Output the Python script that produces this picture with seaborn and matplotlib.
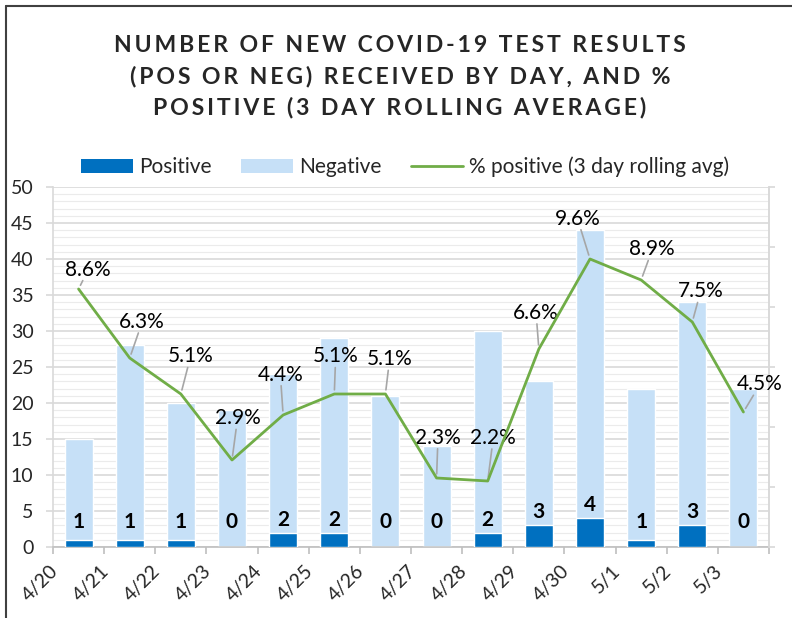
import numpy as np
import pandas as pd
import matplotlib
matplotlib.use('Agg')
import matplotlib.pyplot as plt
import matplotlib.transforms as mtransforms
from matplotlib.lines import Line2D
from matplotlib.patches import Patch
from matplotlib.ticker import MultipleLocator, FixedLocator, NullFormatter
import seaborn as sns

# Data
dates = ["4/20", "4/21", "4/22", "4/23", "4/24", "4/25", "4/26",
         "4/27", "4/28", "4/29", "4/30", "5/1", "5/2", "5/3"]
positive = [1, 1, 1, 0, 2, 2, 0, 0, 2, 3, 4, 1, 3, 0]
negative = [14, 27, 19, 19, 22, 27, 21, 14, 28, 20, 40, 21, 31, 22]
pct_positive = [8.6, 6.3, 5.1, 2.9, 4.4, 5.1, 5.1, 2.3, 2.2, 6.6, 9.6, 8.9, 7.5, 4.5]

# label offsets (points) for the % labels
pct_label_offsets = [(7, 14), (9, 26), (7, 27), (4, 30), (-2, 29), (1, 27), (3, 25),
                     (1, 29), (4, 31), (-2, 26), (-9, 29), (8, 22), (6, 22), (12, 20)]

df = pd.DataFrame({"date": dates, "positive": positive, "negative": negative,
                   "pct": pct_positive})
df["total"] = df["positive"] + df["negative"]

sns.set_theme(style="white")
plt.rcParams['font.family'] = ['Lato', 'DejaVu Sans']

DARK = "#0070C0"
LIGHT = "#C6E0F7"
GREEN = "#70AD47"
GRID = "#D9D9D9"
TEXT = "#262626"

fig = plt.figure(figsize=(7.92, 6.18), dpi=100)
ax = fig.add_axes([53 / 792, 1 - 547 / 618, (769 - 53) / 792, (547 - 187) / 618])

# stacked bars: negative on top of positive
sns.barplot(data=df, x="date", y="total", color=LIGHT, saturation=1, width=0.55,
            ax=ax, zorder=2)
sns.barplot(data=df, x="date", y="positive", color=DARK, saturation=1, width=0.55,
            ax=ax, zorder=3)

ax.set_ylim(0, 50)
ax.set_xlim(-0.5, len(dates) - 0.5)
ax.yaxis.set_major_locator(MultipleLocator(5))
ax.yaxis.set_minor_locator(MultipleLocator(1))
ax.grid(axis='y', which='major', color=GRID, linewidth=1.2, zorder=0)
ax.grid(axis='y', which='minor', color="#EBEBEB", linewidth=0.8, zorder=0)
ax.set_axisbelow(True)
ax.set_xlabel("")
ax.set_ylabel("")
ax.spines["top"].set_visible(False)
for s in ["left", "right", "bottom"]:
    ax.spines[s].set_color(GRID)
    ax.spines[s].set_linewidth(1.2)
ax.spines["bottom"].set_color("#BFBFBF")

ax.tick_params(axis='y', which='major', length=5, color=GRID, width=1.2,
               labelsize=14, labelcolor=TEXT, pad=9, left=True)
ax.tick_params(axis='y', which='minor', length=0)
ax.xaxis.set_minor_locator(FixedLocator(np.arange(-0.5, len(dates), 1)))
ax.xaxis.set_minor_formatter(NullFormatter())
ax.tick_params(axis='x', which='minor', length=5, color="#BFBFBF", width=1.2, bottom=True)
ax.tick_params(axis='x', which='major', length=0, labelsize=14, labelcolor=TEXT, pad=15)
for lbl in ax.get_xticklabels():
    lbl.set_rotation(45)
    lbl.set_ha('right')
    lbl.set_va('center')
    lbl.set_rotation_mode('anchor')
    lbl.set_transform(lbl.get_transform() +
                      mtransforms.ScaledTranslation(-17 / 72, 0, fig.dpi_scale_trans))

# positive count labels
for i, p in enumerate(positive):
    ax.text(i, max(3.5, p + 1.8), str(p), ha='center', va='center',
            fontsize=15, fontweight='bold', color="black", zorder=5)

# % positive line on hidden secondary axis
ax2 = ax.twinx()
sns.lineplot(x=np.arange(len(dates)), y=pct_positive, color=GREEN, linewidth=2,
             ax=ax2, zorder=4)
ax2.set_ylim(0, 12)
ax2.set_yticks(np.arange(0, 13, 2))
ax2.tick_params(axis='y', length=4, color=GRID, labelright=False, right=True)
for s in ["top", "left", "bottom"]:
    ax2.spines[s].set_visible(False)
ax2.spines["right"].set_color(GRID)
ax2.spines["right"].set_linewidth(1.2)
ax2.grid(False)

for i, v in enumerate(pct_positive):
    dx, dy = pct_label_offsets[i]
    ax2.annotate(f"{v:.1f}%", xy=(i, v), xytext=(dx, dy), textcoords='offset points',
                 ha='center', va='center', fontsize=15, color="black",
                 bbox=dict(boxstyle='square,pad=0.05', fc='none', ec='none'),
                 arrowprops=dict(arrowstyle='-', color="#A6A6A6", lw=1.2,
                                 shrinkA=0, shrinkB=3))

# title with letter spacing
title_lines = ["NUMBER OF NEW COVID-19 TEST RESULTS",
               "(POS OR NEG) RECEIVED BY DAY, AND %",
               "POSITIVE (3 DAY ROLLING AVERAGE)"]
for k, line in enumerate(title_lines):
    fig.text(400 / 792, 1 - (45 + 31.5 * k) / 618, "\u2009".join(line),
             ha='center', va='center', fontsize=16.6, fontweight='bold',
             color=TEXT)

handles = [Patch(facecolor=DARK, edgecolor='none'),
           Patch(facecolor=LIGHT, edgecolor='none'),
           Line2D([0], [0], color=GREEN, linewidth=2)]
fig.legend(handles, ["Positive", "Negative", "% positive (3 day rolling avg)"],
           loc='center', bbox_to_anchor=(405 / 792, 1 - 167 / 618), ncol=3,
           frameon=False, fontsize=15, handlelength=2.5, handleheight=0.6,
           handletextpad=0.3, columnspacing=1.4, labelcolor=TEXT)

# chart border (left and top)
fig.add_artist(Line2D([6 / 792, 6 / 792], [0, 1 - 6 / 618], color="#404040",
                      linewidth=1.5, transform=fig.transFigure))
fig.add_artist(Line2D([6 / 792, 1], [1 - 6 / 618, 1 - 6 / 618], color="#404040",
                      linewidth=1.5, transform=fig.transFigure))

fig.savefig("out.png", dpi=100, facecolor="white")
